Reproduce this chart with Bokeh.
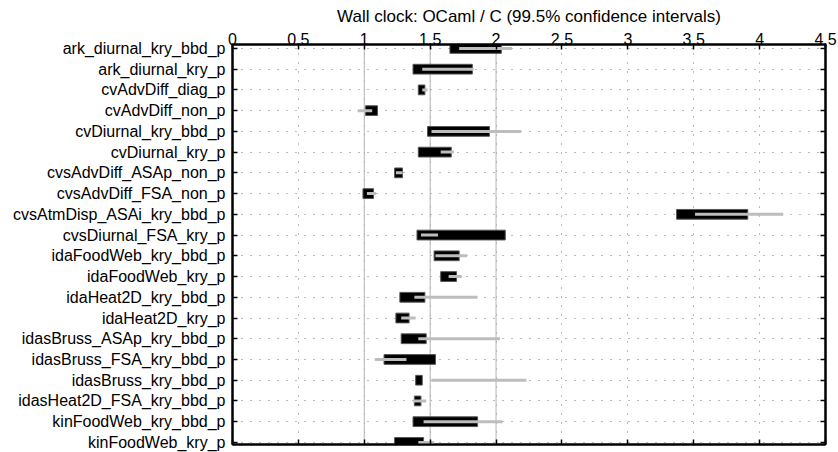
from bokeh.plotting import figure
from bokeh.models import Range1d, FixedTicker, LinearAxis, Span, NumeralTickFormatter
from bokeh.embed import file_html
from bokeh.resources import INLINE

categories = [
    "ark_diurnal_kry_bbd_p", "ark_diurnal_kry_p", "cvAdvDiff_diag_p", "cvAdvDiff_non_p",
    "cvDiurnal_kry_bbd_p", "cvDiurnal_kry_p", "cvsAdvDiff_ASAp_non_p", "cvsAdvDiff_FSA_non_p",
    "cvsAtmDisp_ASAi_kry_bbd_p", "cvsDiurnal_FSA_kry_p", "idaFoodWeb_kry_bbd_p", "idaFoodWeb_kry_p",
    "idaHeat2D_kry_bbd_p", "idaHeat2D_kry_p", "idasBruss_ASAp_kry_bbd_p", "idasBruss_FSA_kry_bbd_p",
    "idasBruss_kry_bbd_p", "idasHeat2D_FSA_kry_bbd_p", "kinFoodWeb_kry_bbd_p", "kinFoodWeb_kry_p",
]
black_lo = [1.65, 1.37, 1.41, 1.01, 1.48, 1.41, 1.23, 0.99, 3.37, 1.40,
            1.53, 1.58, 1.27, 1.24, 1.28, 1.15, 1.39, 1.38, 1.37, 1.23]
black_hi = [2.04, 1.82, 1.46, 1.10, 1.95, 1.66, 1.29, 1.07, 3.91, 2.07,
            1.72, 1.70, 1.46, 1.34, 1.47, 1.54, 1.44, 1.43, 1.86, 1.45]
grey_lo = [1.72, 1.44, 1.44, 0.95, 1.51, 1.58, 1.24, 1.02, 3.51, 1.43,
           1.54, 1.64, 1.38, 1.28, 1.41, 1.08, 1.51, 1.37, 1.45, 1.41]
grey_hi = [2.12, 1.83, 1.48, 1.06, 2.19, 1.68, 1.29, 1.09, 4.18, 1.56,
           1.78, 1.74, 1.86, 1.39, 2.03, 1.32, 2.23, 1.47, 2.05, 1.53]
x_ticks = [0, 0.5, 1, 1.5, 2, 2.5, 3, 3.5, 4, 4.5]
ref_lines = [1, 1.5, 2]
title = "Wall clock: OCaml / C (99.5% confidence intervals)"

n = len(categories)
ypos = list(range(n))
FONT = "Liberation Sans"

p = figure(width=838, height=452, output_backend="svg", toolbar_location=None,
           x_range=Range1d(0, 4.5), y_range=Range1d(n - 1 + 0.1, -0.19),
           x_axis_location="above", y_axis_location="left",
           min_border_left=232, min_border_right=13, min_border_top=44, min_border_bottom=8)

p.title.text = title
p.title.align = "center"
p.title.text_font = FONT
p.title.text_font_style = "normal"
p.title.text_font_size = "17px"
p.title.text_color = "black"
p.title.standoff = 8

p.outline_line_color = "black"
p.outline_line_width = 2

# extra axes for the frame ticks
p.add_layout(LinearAxis(), "below")
p.add_layout(LinearAxis(), "right")

for ax in p.xaxis:
    ax.ticker = FixedTicker(ticks=x_ticks)
    ax.formatter = NumeralTickFormatter(format="0.[0]")
for ax in p.yaxis:
    ax.ticker = FixedTicker(ticks=ypos)
    ax.major_label_overrides = {i: c for i, c in enumerate(categories)}

for ax in p.axis:
    ax.axis_line_width = 2
    ax.axis_line_color = "black"
    ax.major_tick_in = 5
    ax.major_tick_out = 0
    ax.major_tick_line_width = 1.5
    ax.major_tick_line_color = "black"
    ax.minor_tick_line_color = None
    ax.major_label_text_font = FONT
    ax.major_label_text_font_size = "16px"
    ax.major_label_text_color = "black"

p.xaxis[0].major_label_standoff = 0
p.yaxis[0].major_label_standoff = 7
for ax in (p.xaxis[1], p.yaxis[1]):
    ax.major_label_text_font_size = "1px"
    ax.major_label_text_alpha = 0
    ax.major_label_standoff = 0

p.xgrid[0].ticker = FixedTicker(ticks=x_ticks)
p.ygrid[0].ticker = FixedTicker(ticks=ypos)
for g in (p.xgrid[0], p.ygrid[0]):
    g.grid_line_color = "#777777"
    g.grid_line_width = 1
    g.grid_line_dash = "1 8"

for xv in ref_lines:
    p.add_layout(Span(location=xv, dimension="height", line_color="#b4b4b4",
                      line_width=1, level="underlay"))

p.hbar(y=ypos, left=black_lo, right=black_hi, height=0.47,
       fill_color="black", line_color="#555555", line_width=1)
p.segment(x0=grey_lo, y0=ypos, x1=grey_hi, y1=ypos,
          line_color="#bdbdbd", line_width=3)

open("out.html", "w").write(file_html(p, INLINE))
